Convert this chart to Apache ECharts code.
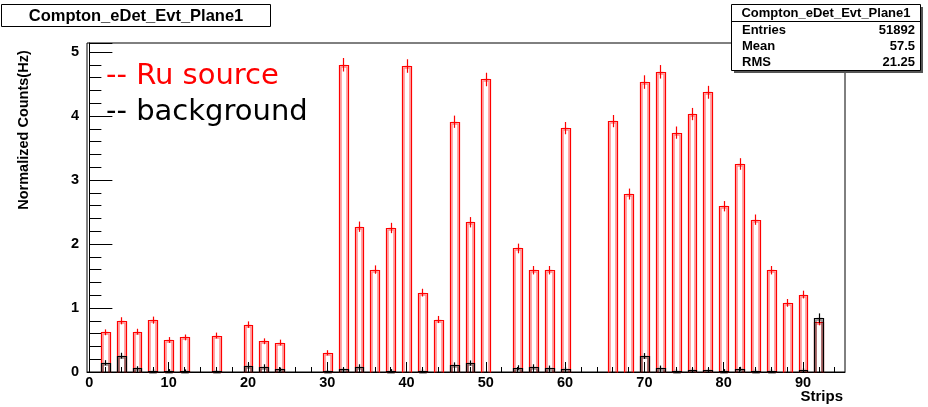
<!DOCTYPE html>
<html><head><meta charset="utf-8">
<script src="https://cdn.jsdelivr.net/npm/echarts@6/dist/echarts.min.js"></script>
<style>html,body{margin:0;padding:0;background:#fff}#c{width:928px;height:407px}</style>
</head><body><div id="c"></div>
<script>
const strips = [2,4,6,8,10,12,16,20,22,24,30,32,34,36,38,40,42,44,46,48,50,54,56,58,60,66,68,70,72,74,76,78,80,82,84,86,88,90,92];
const ruSource = [0.62,0.80,0.63,0.81,0.50,0.54,0.57,0.74,0.48,0.46,0.30,4.80,2.27,1.60,2.25,4.78,1.24,0.82,3.91,2.34,4.57,1.93,1.59,1.59,3.81,3.92,2.78,4.53,4.69,3.74,4.03,4.37,2.59,3.25,2.38,1.59,1.08,1.21,0.78];
const ruErr = [0.03,0.04,0.03,0.04,0.03,0.03,0.03,0.035,0.03,0.03,0.025,0.09,0.065,0.05,0.065,0.09,0.045,0.04,0.08,0.065,0.09,0.06,0.05,0.05,0.08,0.08,0.07,0.09,0.09,0.08,0.08,0.085,0.065,0.075,0.065,0.05,0.045,0.045,0.035];
const background = [0.145,0.255,0.06,0.02,0.02,0.015,0.01,0.10,0.085,0.04,0.01,0.04,0.085,0,0.02,0,0.02,0,0.115,0.14,0,0.07,0.085,0.065,0.05,0,0,0.25,0.065,0.02,0.035,0.035,0.02,0.05,0.02,0.02,0,0.035,0.84];
const bgErr = [0.025,0.03,0.015,0.01,0.01,0.01,0.01,0.02,0.02,0.015,0.01,0.015,0.02,0,0.01,0,0.01,0,0.02,0.025,0,0.02,0.02,0.02,0.015,0,0,0.03,0.02,0.01,0.015,0.015,0.01,0.015,0.01,0.01,0,0.015,0.06];
const xMajorTicks = [0,10,20,30,40,50,60,70,80,90];
const xMinorTicks = [0,2,4,6,8,10,12,14,16,18,20,22,24,26,28,30,32,34,36,38,40,42,44,46,48,50,52,54,56,58,60,62,64,66,68,70,72,74,76,78,80,82,84,86,88,90,92,94];
const histTitle = 'Compton_eDet_Evt_Plane1';
const statRows = [['Entries','51892'],['Mean','57.5'],['RMS','21.25']];

const FONT = 'Liberation Sans, Arial, Helvetica, sans-serif';
const HALF_BIN = 0.56;

function makeRender(color, inner) {
  return function (params, api) {
    const x = api.value(0), v = api.value(1), e = api.value(2);
    const children = [];
    if (v > 0) {
      const p0 = api.coord([x - HALF_BIN, 0]);
      const p1 = api.coord([x + HALF_BIN, v]);
      const l = Math.round(p0[0]) + 0.5, r = Math.round(p1[0]) + 0.5;
      const b = Math.round(p0[1]) + 0.5, t = Math.round(p1[1]) + 0.5;
      children.push({type:'polyline', shape:{points:[[l+1.5,b],[l+1.5,t+1.5],[r-1.5,t+1.5],[r-1.5,b]]}, style:{stroke:inner, lineWidth:1.5, fill:null}});
      children.push({type:'polyline', shape:{points:[[l,b],[l,t],[r,t],[r,b]]}, style:{stroke:color, lineWidth:1.2, fill:null}});
      const c = api.coord([x, v]);
      const lo = api.coord([x, v - e]), hi = api.coord([x, v + e]);
      const cx = Math.round(c[0]) + 0.5;
      children.push({type:'line', shape:{x1:cx, y1:lo[1]+1, x2:cx, y2:hi[1]-1}, style:{stroke:color, lineWidth:1.2}});
      children.push({type:'line', shape:{x1:cx-3, y1:t, x2:cx+3, y2:t}, style:{stroke:color, lineWidth:1.2}});
    }
    return {type:'group', children};
  };
}

const ruData = strips.map((s,i)=>[s, ruSource[i], ruErr[i]]);
const bgData = strips.map((s,i)=>[s, background[i], bgErr[i]]);

const chart = echarts.init(document.getElementById('c'), null, {renderer:'canvas'});
chart.setOption({
  animation:false,
  backgroundColor:'#fff',
  grid:{left:87, right:83, top:43, bottom:35, show:true, borderColor:'#000', borderWidth:1, backgroundColor:'transparent'},
  xAxis:[{
    type:'value', min:-0.3, max:95.3,
    axisLine:{show:true, lineStyle:{color:'#000', width:1}},
    axisTick:{show:true, inside:true, length:10, customValues:xMajorTicks, lineStyle:{color:'#000'}},
    axisLabel:{show:true, customValues:xMajorTicks, color:'#000', fontFamily:FONT, fontWeight:'bold', fontSize:14.5, margin:3},
    splitLine:{show:false}
  },{
    type:'value', min:-0.3, max:95.3, position:'bottom',
    axisLine:{show:false},
    axisTick:{show:true, inside:true, length:5, customValues:xMinorTicks, lineStyle:{color:'#000'}},
    axisLabel:{show:false},
    splitLine:{show:false}
  }],
  yAxis:{
    type:'value', min:0, max:5.14, interval:1,
    axisLine:{show:true, lineStyle:{color:'#000', width:1}},
    axisTick:{show:true, inside:true, length:23, lineStyle:{color:'#000'}},
    minorTick:{show:true, splitNumber:5, length:12, lineStyle:{color:'#000'}},
    axisLabel:{color:'#000', fontFamily:FONT, fontWeight:'bold', fontSize:14.5, margin:8,
      formatter:function(v){return v>5?'':String(v);}},
    splitLine:{show:false}
  },
  series:[
    {type:'custom', name:'Ru source', renderItem:makeRender('#ff0000','rgba(255,0,0,0.45)'), data:ruData, encode:{x:0,y:1}, z:2},
    {type:'custom', name:'background', renderItem:makeRender('#000000','rgba(0,0,0,0.45)'), data:bgData, encode:{x:0,y:1}, z:3}
  ],
  graphic:[
    {type:'rect', z:100, shape:{x:1.5,y:4.5,width:269,height:22}, style:{fill:'#fff', stroke:'#000', lineWidth:1}},
    {type:'text', z:101, x:136, y:16, style:{text:histTitle, font:'bold 16.5px '+FONT, fill:'#000', align:'center', verticalAlign:'middle'}},
    {type:'rect', z:99, shape:{x:734,y:7,width:189,height:66}, style:{fill:'#555', stroke:null}},
    {type:'rect', z:100, shape:{x:731.5,y:4.5,width:189,height:66}, style:{fill:'#fff', stroke:'#000', lineWidth:1}},
    {type:'line', z:101, shape:{x1:731.5,y1:21.5,x2:920.5,y2:21.5}, style:{stroke:'#000', lineWidth:1}},
    {type:'text', z:101, x:826, y:13, style:{text:histTitle, font:'bold 13px '+FONT, fill:'#000', align:'center', verticalAlign:'middle'}},
    ...statRows.flatMap((r,i)=>[
      {type:'text', z:101, x:742, y:30+i*16, style:{text:r[0], font:'bold 13px '+FONT, fill:'#000', align:'left', verticalAlign:'middle'}},
      {type:'text', z:101, x:915, y:30+i*16, style:{text:r[1], font:'bold 13px '+FONT, fill:'#000', align:'right', verticalAlign:'middle'}}
    ]),
    {type:'text', z:50, x:24, y:130, rotation:Math.PI/2, style:{text:'Normalized Counts(Hz)', font:'bold 14.5px '+FONT, fill:'#000', align:'center', verticalAlign:'middle'}},
    {type:'text', z:50, x:843, y:397, style:{text:'Strips', font:'bold 15px '+FONT, fill:'#000', align:'right', verticalAlign:'middle'}},
    {type:'text', z:50, x:106, y:76, style:{text:'-- Ru source', font:'29px DejaVu Sans, sans-serif', fill:'#ff0000', align:'left', verticalAlign:'middle'}},
    {type:'text', z:50, x:106, y:112, style:{text:'-- background', font:'29px DejaVu Sans, sans-serif', fill:'#000', align:'left', verticalAlign:'middle'}}
  ]
});
</script>
</body></html>
